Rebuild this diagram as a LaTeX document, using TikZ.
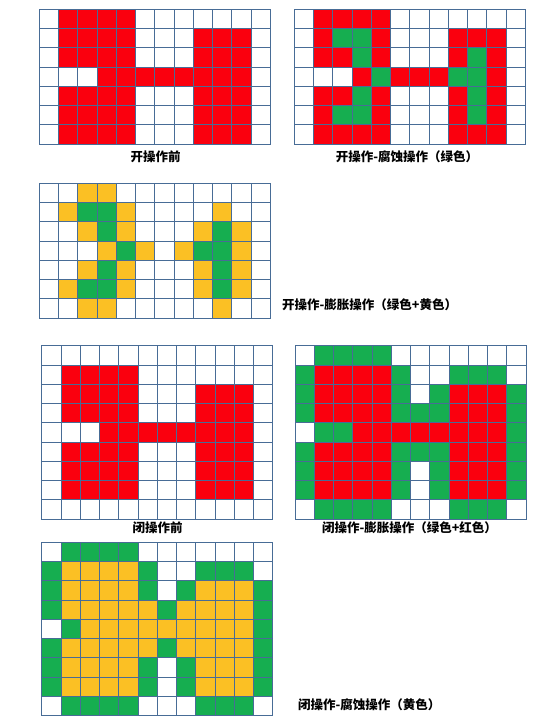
\documentclass[tikz,border=0pt]{standalone}
\usepackage{fontspec}
\usepackage{tikz}
\newfontfamily\cjk{Noto Sans CJK SC}
\definecolor{gridline}{RGB}{72,108,150}
\definecolor{fillW}{RGB}{255,255,255}
\definecolor{fillR}{RGB}{250,0,14}
\definecolor{fillG}{RGB}{22,174,80}
\definecolor{fillY}{RGB}{251,192,36}

% one grid of cells: left, top, rows of colour letters
\newcommand{\cellgrid}[3]{%
  \foreach \rowcells [count=\j from 0] in {#3} {
    \foreach \c [count=\i from 0] in \rowcells {
      \filldraw[cell, fill=fill\c] ({#1+\i*19.25},{#2+\j*19.25}) rectangle +(19.25,19.25);
    }
  }%
}

\begin{document}
\begin{tikzpicture}[x=1pt, y=-1pt,
    cell/.style={draw=gridline, line width=0.9pt},
    caption/.style={inner sep=0pt, font=\cjk\bfseries\fontsize{12.5}{14}\selectfont}]
  \useasboundingbox (0,0) rectangle (555,724);

  % opening
  \cellgrid{39.3}{9.3}{
    {W,R,R,R,R,W,W,W,W,W,W,W},
    {W,R,R,R,R,W,W,W,R,R,R,W},
    {W,R,R,R,R,W,W,W,R,R,R,W},
    {W,W,W,R,R,R,R,R,R,R,R,W},
    {W,R,R,R,R,W,W,W,R,R,R,W},
    {W,R,R,R,R,W,W,W,R,R,R,W},
    {W,R,R,R,R,W,W,W,R,R,R,W}}
  \cellgrid{294.3}{9.3}{
    {W,R,R,R,R,W,W,W,W,W,W,W},
    {W,R,G,G,R,W,W,W,R,R,R,W},
    {W,R,R,G,R,W,W,W,R,G,R,W},
    {W,W,W,R,G,R,R,R,G,G,R,W},
    {W,R,R,G,R,W,W,W,R,G,R,W},
    {W,R,G,G,R,W,W,W,R,G,R,W},
    {W,R,R,R,R,W,W,W,R,R,R,W}}
  \cellgrid{39.3}{183.3}{
    {W,W,Y,Y,W,W,W,W,W,W,W,W},
    {W,Y,G,G,Y,W,W,W,W,Y,W,W},
    {W,W,Y,G,Y,W,W,W,Y,G,Y,W},
    {W,W,W,Y,G,Y,W,Y,G,G,Y,W},
    {W,W,Y,G,Y,W,W,W,Y,G,Y,W},
    {W,Y,G,G,Y,W,W,W,Y,G,Y,W},
    {W,W,Y,Y,W,W,W,W,W,Y,W,W}}
  \node[caption] (openbefore) at (155.5,157) {开操作前};
  \node[caption] (openerode) at (407,157) {开操作-腐蚀操作（绿色）};
  \node[caption, anchor=west] (opendilate) at (282,305) {开操作-膨胀操作（绿色+黄色）};

  % closing
  \cellgrid{41.7}{345.7}{
    {W,W,W,W,W,W,W,W,W,W,W,W},
    {W,R,R,R,R,W,W,W,W,W,W,W},
    {W,R,R,R,R,W,W,W,R,R,R,W},
    {W,R,R,R,R,W,W,W,R,R,R,W},
    {W,W,W,R,R,R,R,R,R,R,R,W},
    {W,R,R,R,R,W,W,W,R,R,R,W},
    {W,R,R,R,R,W,W,W,R,R,R,W},
    {W,R,R,R,R,W,W,W,R,R,R,W},
    {W,W,W,W,W,W,W,W,W,W,W,W}}
  \cellgrid{295}{345.7}{
    {W,G,G,G,G,W,W,W,W,W,W,W},
    {G,R,R,R,R,G,W,W,G,G,G,W},
    {G,R,R,R,R,G,W,G,R,R,R,G},
    {G,R,R,R,R,G,G,G,R,R,R,G},
    {W,G,G,R,R,R,R,R,R,R,R,G},
    {G,R,R,R,R,G,G,G,R,R,R,G},
    {G,R,R,R,R,G,W,G,R,R,R,G},
    {G,R,R,R,R,G,W,G,R,R,R,G},
    {W,G,G,G,G,W,W,W,G,G,G,W}}
  \cellgrid{41.7}{542.3}{
    {W,G,G,G,G,W,W,W,W,W,W,W},
    {G,Y,Y,Y,Y,G,W,W,G,G,G,W},
    {G,Y,Y,Y,Y,G,W,G,Y,Y,Y,G},
    {G,Y,Y,Y,Y,Y,G,Y,Y,Y,Y,G},
    {W,G,Y,Y,Y,Y,Y,Y,Y,Y,Y,G},
    {G,Y,Y,Y,Y,Y,G,Y,Y,Y,Y,G},
    {G,Y,Y,Y,Y,G,W,G,Y,Y,Y,G},
    {G,Y,Y,Y,Y,G,W,G,Y,Y,Y,G},
    {W,G,G,G,G,W,W,W,G,G,G,W}}
  \node[caption] (closebefore) at (157.7,527.7) {闭操作前};
  \node[caption] (closedilate) at (409.5,527.7) {闭操作-膨胀操作（绿色+红色）};
  \node[caption, anchor=west] (closeerode) at (298,705) {闭操作-腐蚀操作（黄色）};
\end{tikzpicture}
\end{document}
